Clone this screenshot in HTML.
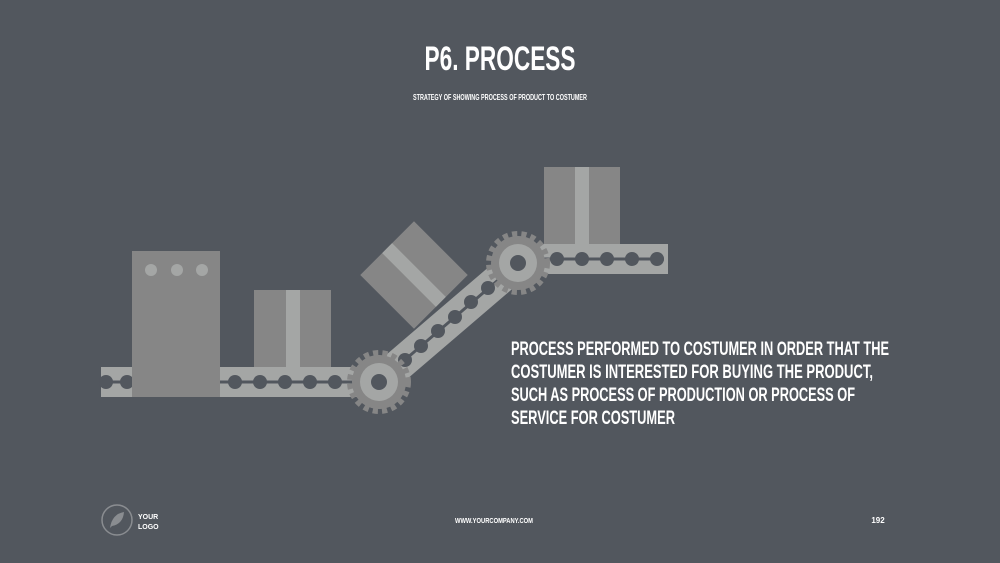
<!DOCTYPE html>
<html><head><meta charset="utf-8"><style>
html,body{margin:0;padding:0;background:#52575e;}
svg{display:block}
text{font-family:"Liberation Sans Narrow","Liberation Sans",sans-serif;font-weight:bold;fill:#fff}
</style></head><body>
<svg width="1000" height="563" viewBox="0 0 1000 563">
<rect width="1000" height="563" fill="#52575e"/>
<text x="500" y="70" text-anchor="middle" font-size="34" textLength="151" lengthAdjust="spacingAndGlyphs">P6. PROCESS</text>
<text x="500" y="100" text-anchor="middle" font-size="8" textLength="174" lengthAdjust="spacingAndGlyphs">STRATEGY OF SHOWING PROCESS OF PRODUCT TO COSTUMER</text>

<!-- bottom belt -->
<rect x="101" y="367" width="280" height="30" fill="#a4a6a5"/>
<line x1="101" y1="382" x2="379" y2="382" stroke="#52575e" stroke-width="3"/>
<g fill="#52575e">
<circle cx="106" cy="382" r="7"/><circle cx="127" cy="382" r="7"/>
<circle cx="235" cy="382" r="7"/><circle cx="260" cy="382" r="7"/><circle cx="285" cy="382" r="7"/><circle cx="310" cy="382" r="7"/><circle cx="335" cy="382" r="7"/>
</g>
<!-- machine -->
<rect x="132" y="251" width="88" height="146" fill="#868686"/>
<g fill="#a4a6a5"><circle cx="151" cy="270" r="6"/><circle cx="177" cy="270" r="6"/><circle cx="202" cy="270" r="6"/></g>
<!-- box 2 -->
<rect x="254" y="290" width="77" height="77" fill="#868686"/>
<rect x="286" y="290" width="14" height="77" fill="#a4a6a5"/>

<!-- tilted box (behind belt) -->
<g transform="translate(414,275) rotate(45)">
<rect x="-38" y="-38" width="76" height="76" fill="#868686"/>
<rect x="-38" y="-7" width="76" height="14" fill="#a4a6a5"/>
</g>

<!-- inclined belt -->
<line x1="379" y1="382" x2="518" y2="263" stroke="#a4a6a5" stroke-width="32"/>
<line x1="379" y1="382" x2="518" y2="263" stroke="#52575e" stroke-width="3"/>
<g fill="#52575e">
<circle cx="405" cy="360" r="7"/><circle cx="421" cy="346" r="7"/><circle cx="438" cy="331" r="7"/><circle cx="455" cy="317" r="7"/><circle cx="471" cy="302" r="7"/><circle cx="488" cy="288" r="7"/>
</g>
<!-- top belt -->
<rect x="518" y="244" width="150" height="30" fill="#a4a6a5"/>
<line x1="518" y1="259" x2="664" y2="259" stroke="#52575e" stroke-width="3"/>
<g fill="#52575e"><circle cx="557" cy="259" r="7"/><circle cx="582" cy="259" r="7"/><circle cx="607" cy="259" r="7"/><circle cx="632" cy="259" r="7"/><circle cx="657" cy="259" r="7"/></g>
<rect x="544" y="167" width="76" height="77" fill="#868686"/>
<rect x="575" y="167" width="14" height="77" fill="#a4a6a5"/>

<!-- gears -->
<g transform="translate(379,382)">
<circle r="28" fill="none" stroke="#868686" stroke-width="8" stroke-dasharray="5 4"/>
<circle r="27" fill="#868686"/>
<circle r="19" fill="#a4a6a5"/>
<circle r="8" fill="#52575e"/>
</g>
<g transform="translate(518,263)">
<circle r="28" fill="none" stroke="#868686" stroke-width="8" stroke-dasharray="5 4"/>
<circle r="27" fill="#868686"/>
<circle r="19" fill="#a4a6a5"/>
<circle r="8" fill="#52575e"/>
</g>

<!-- body text -->
<g font-size="19">
<text x="511" y="355" textLength="378" lengthAdjust="spacingAndGlyphs">PROCESS PERFORMED TO COSTUMER IN ORDER THAT THE</text>
<text x="511" y="378" textLength="362" lengthAdjust="spacingAndGlyphs">COSTUMER IS INTERESTED FOR BUYING THE PRODUCT,</text>
<text x="511" y="401" textLength="344" lengthAdjust="spacingAndGlyphs">SUCH AS PROCESS OF PRODUCTION OR PROCESS OF</text>
<text x="511" y="424" textLength="164" lengthAdjust="spacingAndGlyphs">SERVICE FOR COSTUMER</text>
</g>

<!-- footer -->
<circle cx="117" cy="520" r="15" fill="none" stroke="#8a8d91" stroke-width="1.5"/>
<path d="M110 528 Q112 514 124 512 Q123 524 112 526 Z" fill="#8a8d91"/>
<text x="138" y="519" font-size="7">YOUR</text>
<text x="138" y="529" font-size="7">LOGO</text>
<text x="494" y="523" text-anchor="middle" font-size="7" textLength="78" lengthAdjust="spacingAndGlyphs">WWW.YOURCOMPANY.COM</text>
<text x="878" y="523" text-anchor="middle" font-size="8">192</text>
</svg>
</body></html>
